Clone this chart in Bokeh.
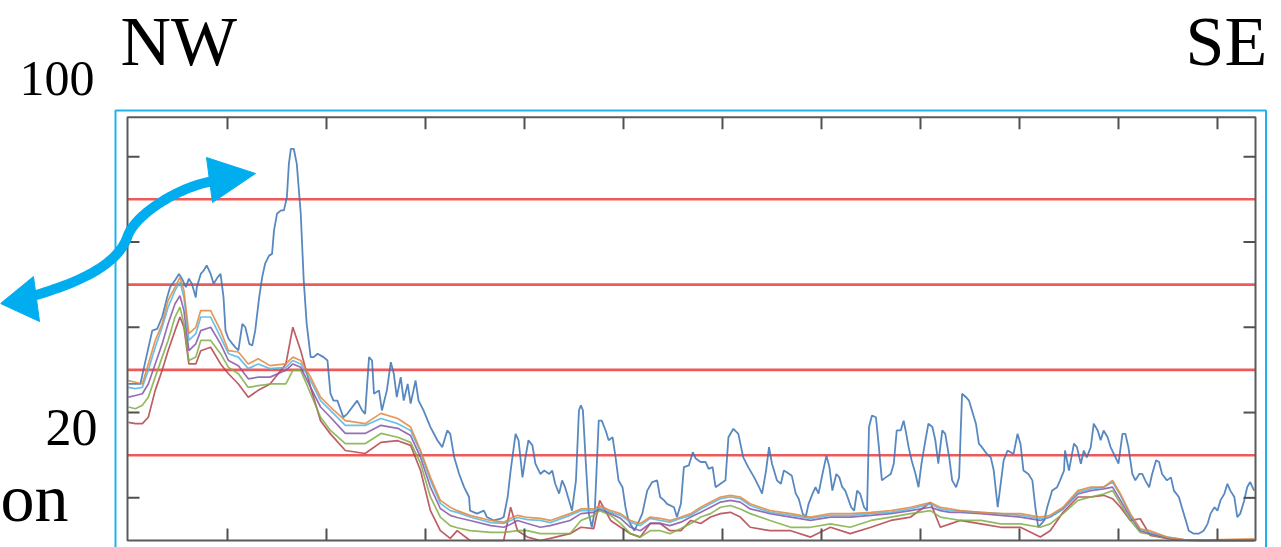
import numpy as np
from bokeh.plotting import figure
from bokeh.models import Label, Range1d
from bokeh.embed import file_html
from bokeh.resources import INLINE

# ---------------- data ----------------
# main (upper) series
main_x = [0, 12, 15, 21, 24, 29, 34, 39, 42, 47, 51, 54, 58, 61, 64, 68, 69, 73, 76, 79,
          83, 86, 90, 93, 96, 98, 101, 105, 108, 111, 115, 118, 122, 125, 128, 132, 135, 138, 142, 145,
          147, 150, 154, 157, 160, 162, 164, 167, 170, 174, 177, 180, 184, 187, 191, 197, 201,
          204, 207, 211, 217, 221, 231, 236, 239, 243, 246, 248, 253, 256, 261, 265, 268, 271, 275, 278, 282,
          285, 290, 293, 298, 305, 312, 317, 322, 325, 329, 334, 339, 344, 345, 352, 359, 362, 369, 376, 379,
          383, 386, 391, 394, 398, 401, 404, 408, 411, 416,
          420, 425, 428, 431, 435, 438, 441, 445, 448, 452, 455, 457, 459, 462, 465, 468, 471, 475, 478, 482,
          485, 489, 492, 495, 499, 502, 505, 511, 516, 519, 524, 529, 534, 537, 541, 544, 551, 554, 558, 561,
          566, 570, 573, 578, 583, 586, 590, 593, 598, 603, 606, 611, 616,
          621, 626, 632, 637, 640, 644, 647, 650, 655, 659, 662, 665, 670, 674, 677, 681, 684, 687, 691, 694,
          697, 701, 705, 708, 711, 715, 718, 721, 724, 730, 733, 736, 739, 743, 746, 748, 751, 755, 758, 761,
          765, 770, 773, 776, 780, 783, 785, 788, 791, 795, 798, 801, 805, 808, 812, 815, 818,
          822, 825, 829, 832, 836, 839, 842, 846, 849, 852, 856, 859, 862, 867, 871, 874, 878, 881, 884, 888,
          891, 894, 898, 901, 904, 909, 913, 916, 919, 925, 928, 933, 938, 941, 945, 946, 950, 955, 958, 962,
          965, 968, 972, 975, 979, 982, 985, 989, 992, 997, 1000, 1004, 1007, 1010, 1014, 1017,
          1021, 1024, 1027, 1031, 1034, 1038, 1041, 1044, 1049, 1053, 1056, 1061, 1064, 1068, 1071, 1076, 1081,
          1086, 1090, 1093, 1097, 1100, 1103, 1107, 1110, 1113, 1117, 1120, 1123, 1127, 1130, 1133, 1137]
main_y = [36.7, 36.7, 39.9, 46.1, 49.2, 49.6, 52.4, 57.0, 59.4, 61.0, 62.5, 61.4, 59.4, 61.4, 60.2, 57.0, 59.4, 62.5, 63.3, 64.5,
          62.5, 60.2, 61.7, 62.5, 57.0, 49.2, 47.3, 46.1, 45.3, 44.6, 50.8, 50.0, 46.1, 45.7, 49.2, 57.0, 61.7, 64.9, 66.8, 67.2,
          72.7, 76.6, 77.4, 77.4, 80.5, 88.3, 91.8, 91.8, 88.3, 76.6, 61.0, 50.8, 43.0, 43.0, 43.8, 43.0, 42.2,
          34.5, 32.8, 32.8, 28.9, 29.7, 32.8, 30.5, 29.7, 43.0, 42.2, 34.4, 35.2, 30.5, 35.2, 41.8, 39.1, 33.6, 38.3, 32.8, 36.7,
          32.1, 37.5, 32.8, 30.5, 26.6, 23.5, 21.9, 25.8, 25.0, 19.5, 15.6, 12.5, 10.2, 7.0, 6.3, 7.0, 5.5, 4.7, 5.1, 5.5,
          10.2, 16.4, 25.0, 23.5, 14.8, 19.5, 23.5, 22.3, 18.0, 15.6,
          16.4, 15.6, 16.4, 13.3, 11.0, 14.1, 12.5, 9.4, 7.0, 14.1, 30.5, 31.7, 30.5, 18.0, 6.3, 3.1, 7.0, 28.1, 28.1, 25.8,
          23.5, 24.2, 19.5, 14.1, 12.5, 7.8, 4.7, 2.3, 4.7, 6.3, 11.7, 13.7, 14.1, 10.2, 9.4, 8.6, 7.8, 5.5, 8.6, 17.2,
          17.6, 20.7, 19.2, 18.4, 18.4, 16.8, 17.2, 12.5, 13.3, 14.1, 24.2, 26.2, 25.0,
          19.5, 17.2, 14.8, 12.5, 11.0, 16.4, 21.9, 18.0, 14.1, 13.3, 16.4, 16.0, 15.2, 11.0, 9.8, 6.3, 5.5, 8.6, 11.0, 12.5,
          11.0, 15.6, 19.9, 17.2, 11.7, 15.6, 14.8, 12.5, 11.7, 7.8, 7.0, 11.7, 11.0, 7.8, 7.0, 26.6, 29.3, 28.9, 21.9, 14.1,
          14.8, 15.6, 18.0, 25.8, 25.8, 28.1, 25.8, 21.9, 18.8, 15.6, 12.5, 18.0, 23.5, 27.4, 26.6, 23.5, 18.0,
          25.8, 25.0, 19.5, 14.1, 12.5, 14.8, 34.4, 33.6, 32.8, 30.5, 27.4, 22.7, 21.9, 20.3, 19.5, 16.4, 7.8, 13.3, 18.8, 21.1,
          20.7, 20.3, 25.0, 22.7, 16.4, 15.6, 14.1, 7.8, 3.1, 4.7, 7.8, 11.7, 12.5, 14.1, 16.4, 21.1, 16.4, 22.7, 21.9, 18.0,
          21.1, 19.5, 21.9, 27.4, 25.8, 23.5, 25.8, 24.2, 21.9, 19.5, 18.0, 25.0, 25.0, 21.9, 15.6, 14.1,
          15.6, 15.6, 14.1, 12.5, 15.6, 18.8, 18.4, 15.6, 14.1, 14.8, 11.7, 10.2, 7.8, 4.7, 2.3, 1.6, 1.6,
          2.3, 3.9, 6.3, 7.8, 7.0, 9.4, 11.0, 13.3, 11.7, 10.2, 5.5, 6.3, 9.4, 12.5, 13.7, 11.7]

# lower bundle of series, sampled on a common grid
bundle_x = [0, 7, 14, 20, 27, 34, 40, 47, 52, 56,
            61, 68, 73, 83, 93, 101, 111, 121, 131, 143,
            159, 166, 174, 184, 194, 204, 219, 239, 255, 272,
            285, 295, 305, 315, 325, 332, 345, 366, 379, 386,
            393, 403, 416, 426, 446, 457, 470, 476, 487, 497,
            507, 517, 527, 537, 547, 558, 568, 578, 588, 598,
            608, 618, 628, 648, 669, 689, 709, 729, 750, 770,
            790, 810, 820, 830, 840, 861, 881, 901, 921, 931,
            944, 959, 972, 985, 994, 1002, 1012, 1022, 1032, 1049,
            1066, 1083, 1137]
orange = [37.5, 37.1, 36.7, 41.4, 46.9, 50.8, 56.3, 59.4, 61.7, 58.6,
          48.5, 50.0, 53.9, 53.9, 49.2, 44.5, 44.2, 41.4, 42.6, 41.0,
          41.4, 43.0, 42.2, 38.3, 33.6, 31.3, 28.1, 27.4, 29.8, 28.6,
          26.6, 21.1, 14.8, 9.4, 7.8, 7.0, 5.9, 4.7, 4.3, 5.2,
          5.9, 5.4, 5.2, 4.7, 6.3, 7.4, 7.4, 8.2, 7.0, 6.3,
          4.7, 4.0, 5.5, 5.2, 4.7, 5.5, 6.3, 7.8, 9.0, 10.2,
          10.6, 10.2, 8.6, 7.0, 6.3, 5.5, 6.3, 6.3, 6.6, 7.0,
          7.8, 8.9, 7.8, 7.4, 7.0, 6.6, 6.3, 6.3, 5.5, 5.9,
          7.8, 11.7, 12.5, 12.5, 14.1, 10.9, 6.3, 2.7, 2.3, 0.8,
          0.2, 0.1, 0.4]
cyan = [35.9, 35.6, 35.9, 39.9, 45.3, 50.0, 54.7, 58.6, 60.6, 57.0,
        46.9, 48.5, 52.4, 52.4, 47.7, 43.8, 43.0, 40.3, 41.4, 40.3,
        40.6, 42.2, 41.4, 37.5, 32.8, 30.5, 27.0, 27.0, 28.6, 27.4,
        25.8, 20.7, 14.1, 8.7, 7.0, 6.6, 5.5, 4.2, 4.0, 4.7,
        5.4, 4.9, 4.7, 4.2, 5.9, 7.0, 7.0, 7.8, 6.6, 5.9,
        4.3, 3.5, 5.2, 4.7, 4.3, 5.2, 5.9, 7.4, 8.6, 9.8,
        10.2, 9.8, 8.2, 6.6, 5.9, 5.2, 5.9, 5.9, 6.3, 6.6,
        7.4, 8.6, 7.4, 7.0, 6.9, 6.6, 6.3, 5.9, 5.1, 5.5,
        7.4, 11.3, 12.1, 12.5, 13.7, 10.6, 5.9, 2.7, 1.9, 0.8,
        0.2, 0.1, 0.1]
purple = [33.6, 34.0, 34.4, 36.7, 41.4, 46.1, 50.8, 55.5, 57.4, 53.9,
          44.5, 46.1, 49.2, 50.0, 46.1, 42.2, 41.0, 37.9, 38.3, 38.3,
          39.9, 41.4, 40.6, 35.9, 31.3, 28.9, 25.1, 25.1, 27.0, 26.3,
          24.6, 19.5, 12.5, 7.5, 5.9, 5.4, 4.7, 3.5, 3.1, 3.8,
          4.7, 4.0, 3.1, 3.5, 4.7, 6.3, 6.6, 7.4, 6.3, 5.2,
          3.1, 2.3, 4.0, 4.0, 3.5, 4.3, 5.5, 6.6, 7.8, 9.0,
          9.4, 9.0, 7.4, 6.3, 5.5, 4.7, 5.5, 5.5, 5.9, 6.3,
          7.0, 7.8, 7.0, 6.6, 6.6, 6.3, 5.9, 5.5, 4.7, 5.5,
          7.4, 10.9, 11.7, 12.1, 12.5, 9.4, 5.5, 2.3, 1.6, 0.6,
          0.1, 0.0, 0.0]
green = [31.3, 30.9, 31.7, 33.6, 38.3, 43.0, 46.9, 52.4, 54.7, 50.8,
         42.2, 43.0, 46.9, 46.9, 43.8, 40.6, 39.1, 35.9, 36.3, 36.7,
         36.7, 39.9, 39.9, 34.4, 28.9, 25.8, 22.7, 22.7, 25.1, 24.2,
         23.0, 18.1, 10.2, 5.5, 3.5, 3.0, 2.3, 1.9, 1.9, 2.1,
         2.3, 2.3, 1.6, 1.6, 1.6, 4.7, 5.9, 7.0, 5.9, 4.0,
         1.6, 0.8, 2.3, 2.3, 1.6, 2.8, 4.0, 5.5, 6.3, 7.8,
         8.2, 7.4, 6.3, 4.7, 3.1, 3.1, 3.9, 3.1, 4.7, 5.5,
         6.3, 7.0, 5.5, 5.1, 4.7, 4.7, 3.9, 3.9, 3.1, 3.9,
         6.3, 9.4, 10.2, 10.9, 11.7, 8.6, 4.7, 1.9, 1.4, 0.5,
         0.1, 0.0, 0.0]
red = [27.7, 27.4, 27.4, 28.9, 35.2, 39.9, 44.5, 49.2, 52.4, 50.0,
       41.4, 41.4, 44.5, 45.3, 41.4, 39.1, 36.7, 33.6, 35.2, 36.7,
       41.4, 50.0, 44.5, 35.9, 28.1, 25.0, 21.1, 20.4, 23.0, 23.4,
       22.3, 16.4, 7.0, 2.3, 0.5, 2.3, 0.0, 0.0, 0.0, 7.8,
       2.3, 0.8, 0.0, 0.5, 1.6, 3.1, 2.8, 9.4, 4.7, 3.1,
       1.6, 0.8, 4.0, 4.0, 2.3, 2.3, 4.7, 4.0, 5.5, 6.3,
       6.6, 5.5, 3.1, 2.3, 2.3, 0.8, 3.1, 1.6, 3.1, 4.7,
       5.5, 8.9, 3.1, 3.9, 4.7, 3.9, 3.1, 3.1, 0.8, 2.3,
       6.6, 10.2, 10.2, 10.6, 9.8, 7.8, 4.7, 5.1, 1.2, 0.5,
       0.1, 0.0, 0.0]

red_levels = [20, 40, 60, 80]
x_ticks = [100, 200, 300, 400, 500, 600, 700, 800, 900, 1000, 1100]
y_ticks = [10, 30, 50, 70, 90]

# chart box limits (data units)
X_LO, X_HI = -1.0, 1138.4
Y_LO, Y_HI = 0.0, 99.25

# ---------------- figure: full-canvas frame ----------------
W, H = 1281, 547
# the chart box occupies canvas px 127..1255 (x) and 116.7..540 (y)
BX0, BX1, BY0, BY1 = 127.0, 1255.0, 116.7, 540.0
kx = (X_HI - X_LO) / (BX1 - BX0)
ky = (Y_HI - Y_LO) / (BY1 - BY0)

p = figure(width=W, height=H, output_backend="svg", toolbar_location=None,
           x_range=Range1d(0, W), y_range=Range1d(H, 0),
           x_axis_location=None, y_axis_location=None, min_border=0)
p.grid.visible = False
p.outline_line_color = None
p.background_fill_color = "white"
p.border_fill_color = "white"
p.extra_x_ranges = {"cx": Range1d(X_LO - BX0 * kx, X_HI + (W - BX1) * kx)}
p.extra_y_ranges = {"cy": Range1d(Y_LO - (H - BY1) * ky, Y_HI + BY0 * ky)}
C = dict(x_range_name="cx", y_range_name="cy")

# red reference levels
p.segment(x0=[X_LO] * len(red_levels), x1=[X_HI] * len(red_levels),
          y0=red_levels, y1=red_levels, line_color="#f04646", line_width=2.6,
          line_alpha=0.9, **C)

# series
p.line(main_x, main_y, line_color="#3b73b5", line_width=1.8, line_alpha=0.85, **C)
for ys, col in [(red, "#b2424a"), (green, "#7fae45"), (purple, "#8655a6"),
                (cyan, "#52b6e2"), (orange, "#e2863c")]:
    p.line(bundle_x, ys, line_color=col, line_width=1.7, line_alpha=0.85, **C)

# chart box and inward ticks
AX = "#5a5a5a"
p.quad(left=[X_LO], right=[X_HI], bottom=[Y_LO], top=[Y_HI], fill_alpha=0,
       line_color=AX, line_width=2, **C)
TL = 12  # tick length in px
tx = TL * kx
ty = TL * ky
nx, ny = len(x_ticks), len(y_ticks)
p.segment(x0=x_ticks, x1=x_ticks, y0=[Y_LO] * nx, y1=[Y_LO + ty] * nx,
          line_color="#505050", line_width=2, **C)
p.segment(x0=x_ticks, x1=x_ticks, y0=[Y_HI] * nx, y1=[Y_HI - ty] * nx,
          line_color="#505050", line_width=2, **C)
p.segment(x0=[X_LO] * ny, x1=[X_LO + tx] * ny, y0=y_ticks, y1=y_ticks,
          line_color="#505050", line_width=2, **C)
p.segment(x0=[X_HI] * ny, x1=[X_HI - tx] * ny, y0=y_ticks, y1=y_ticks,
          line_color="#505050", line_width=2, **C)

# ---------------- decorations (canvas pixels) ----------------
CY = "#00aeef"
p.quad(left=[115], right=[1265.5], top=[110], bottom=[580], fill_alpha=0,
       line_color="#22b2ea", line_width=2)


def bez(p0, p1, p2, p3, n=30):
    t = np.linspace(0, 1, n)[:, None]
    return ((1 - t) ** 3) * np.array(p0) + 3 * ((1 - t) ** 2) * t * np.array(p1) \
        + 3 * (1 - t) * t ** 2 * np.array(p2) + t ** 3 * np.array(p3)


segA = bez((34, 295), (85, 280), (118, 262), (127, 236))
segB = bez((127, 236), (134, 215), (175, 188), (210, 181))
path = np.vstack([segA, segB[1:]])
p.line(path[:, 0], path[:, 1], line_color=CY, line_width=10, line_join="round")
p.patch([255, 206, 212], [173, 157, 202], fill_color=CY, line_color=CY, line_width=1)
p.patch([0, 33, 39], [303, 276, 321], fill_color=CY, line_color=CY, line_width=1)

FONT = "Liberation Serif"
for txt, x, y, size in [("NW", 120, 41, "70px"),
                        ("SE", 1185, 41, "70px"),
                        ("100", 19, 78, "50px"),
                        ("20", 45, 427, "52px"),
                        ("on", 0, 497, "68px")]:
    p.add_layout(Label(x=x, y=y, text=txt,
                       text_font=FONT, text_font_size=size, text_color="black",
                       text_align="left", text_baseline="middle"))

open("out.html", "w").write(file_html(p, INLINE))
